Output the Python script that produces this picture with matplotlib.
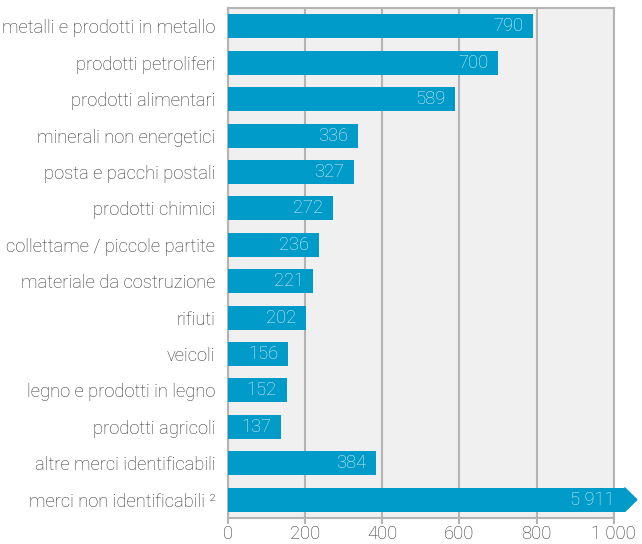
import matplotlib.pyplot as plt
from matplotlib.patches import Polygon

categories = [
    'metalli e prodotti in metallo', 'prodotti petroliferi', 'prodotti alimentari',
    'minerali non energetici', 'posta e pacchi postali', 'prodotti chimici',
    'collettame / piccole partite', 'materiale da costruzione', 'rifiuti', 'veicoli',
    'legno e prodotti in legno', 'prodotti agricoli', 'altre merci identificabili',
    'merci non identificabili ²',
]
values = [790, 700, 589, 336, 327, 272, 236, 221, 202, 156, 152, 137, 384, 5911]
value_labels = ['790', '700', '589', '336', '327', '272', '236', '221', '202', '156',
                '152', '137', '384', '5 911']
xticks = [0, 200, 400, 600, 800, 1000]
xtick_labels = ['0', '200', '400', '600', '800', '1 000']

plt.rcParams['font.family'] = ['Roboto', 'DejaVu Sans']
bar_color = '#009bc8'
text_color = '#333333'
grid_color = '#b4b4b4'
fs = 13.2

fig = plt.figure(figsize=(6.42, 5.44), dpi=100)
ax = fig.add_axes([0.355, 0.048, 0.601, 0.937])
ax.set_facecolor('#f0f0f0')

xmax = 1000
y = list(range(len(categories)))
shown = [min(v, 1028) for v in values]
ax.barh(y, shown, height=0.66, color=bar_color, zorder=3, clip_on=False)

# arrow tip on the bar that runs off the scale
for yi, v in zip(y, values):
    if v > xmax:
        tri = Polygon([[1028, yi - 0.33], [1060, yi], [1028, yi + 0.33]],
                      closed=True, color=bar_color, zorder=3, clip_on=False)
        ax.add_patch(tri)

for yi, v, lab in zip(y, shown, value_labels):
    ax.text(v - 25, yi, lab, ha='right', va='center', color='#d6eef7',
            fontsize=fs, fontweight='light', zorder=4)

ax.set_xlim(0, xmax)
ax.set_ylim(len(categories) - 0.5, -0.5)
ax.set_yticks(y)
ax.set_yticklabels(categories, fontsize=fs, fontweight='light', color=text_color)
ax.set_xticks(xticks)
ax.set_xticklabels(xtick_labels, fontsize=fs, fontweight='light', color=text_color)
ax.tick_params(axis='y', length=0, pad=9)
ax.tick_params(axis='x', length=4, color=grid_color, width=1.5, pad=1)

ax.grid(axis='x', color=grid_color, linewidth=1.5, zorder=1)
for s in ax.spines.values():
    s.set_color(grid_color)
    s.set_linewidth(1.5)

fig.savefig('out.png', dpi=100)
